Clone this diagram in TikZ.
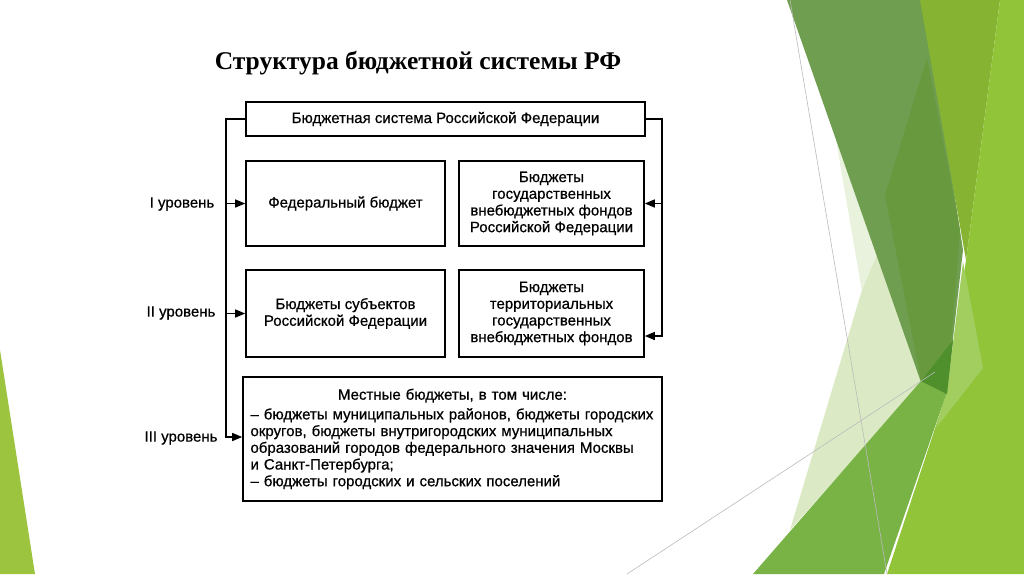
\documentclass[tikz,border=0pt]{standalone}
\usepackage{fontspec}
\setmainfont{Liberation Serif}
\newfontfamily\arial[FakeBold=0.6]{Liberation Sans}
\usetikzlibrary{arrows.meta}
\definecolor{pale}{HTML}{DBEAC4}
\definecolor{palelt}{HTML}{E9F2DC}
\definecolor{darkband}{HTML}{6F9E50}
\definecolor{darker}{HTML}{68993F}
\definecolor{limeM}{HTML}{86B432}
\definecolor{limeL}{HTML}{92C43A}
\definecolor{strip}{HTML}{A2CE60}
\definecolor{midgreen}{HTML}{79B346}
\definecolor{darkest}{HTML}{4F8F2C}
\definecolor{leftstrip}{HTML}{9CC43E}
\definecolor{hairgray}{HTML}{BBBBBB}
\begin{document}
\begin{tikzpicture}[x=1pt,y=-1pt,
  box/.style={draw=black, line width=1.6pt, fill=white, inner sep=0pt,
    font=\arial\fontsize{15}{16.7}\selectfont, align=center},
  conn/.style={line width=1.4pt, -{Triangle[length=10pt,width=8pt]}},
  lvl/.style={font=\arial\fontsize{15}{16}\selectfont, inner sep=0pt}]
\useasboundingbox (0,0) rectangle (1024,574);
\fill[white] (0,0) rectangle (1024,574);
% background facets
\fill[leftstrip] (0,350) -- (35,574) -- (0,574) -- cycle;
\fill[pale] (832,115) -- (922,382) -- (790,530) -- (862,290) -- cycle;
\fill[palelt] (832,115) -- (878,252) -- (862,290) -- cycle;
\fill[darkband] (787,0) -- (925,0) -- (963,250) -- (947,392) -- (922,385) -- cycle;
\fill[darker] (927,58) -- (960,230) -- (947,392) -- (921,381) -- (885,195) -- cycle;
\fill[limeM] (920,0) -- (1000,0) -- (966,260) -- cycle;
\fill[limeL] (1000,0) -- (1024,0) -- (1024,574) -- (887,574) -- (947,392) -- (966,260) -- cycle;
\fill[strip] (963,262) -- (983,368) -- (936,428) -- (947,392) -- cycle;
\fill[midgreen] (753,574) -- (921,381) -- (953,340) -- (947,392) -- (884,574) -- cycle;
\fill[darkest] (921,381) -- (953,340) -- (947,394) -- cycle;
\draw[hairgray, line width=0.6pt] (790,0) -- (887,574);
\draw[hairgray, line width=0.6pt] (627,574) -- (935,372);
% title
\node[font=\bfseries\fontsize{25.5}{28}\selectfont, inner sep=0pt] (title) at (418,63) {Структура бюджетной системы РФ};
% boxes
\node[box, minimum width=399pt, minimum height=34pt] (top) at (445.5,119) {Бюджетная система Российской Федерации};
\node[box, minimum width=199pt, minimum height=85pt] (fed) at (345.5,203.5) {Федеральный бюджет};
\node[box, minimum width=185pt, minimum height=85pt] (fonds) at (551.5,203.5) {Бюджеты\\государственных\\внебюджетных фондов\\Российской Федерации};
\node[box, minimum width=199pt, minimum height=87pt] (sub) at (345.5,313.5) {Бюджеты субъектов\\Российской Федерации};
\node[box, minimum width=185pt, minimum height=87pt] (terr) at (551.5,313.5) {Бюджеты\\территориальных\\государственных\\внебюджетных фондов};
\node[box, minimum width=419pt, minimum height=124pt, text width=404pt, align=left] (loc) at (452.5,439) {{\centering Местные бюджеты, в том числе:\par}\vspace{3pt}%
– бюджеты муниципальных районов, бюджеты городских\\округов, бюджеты внутригородских муниципальных\\образований городов федерального значения Москвы\\и Санкт-Петербурга;\\– бюджеты городских и сельских поселений};
% level labels
\node[lvl] (l1) at (182,204) {I уровень};
\node[lvl] (l2) at (181,313) {II уровень};
\node[lvl] (l3) at (181,438) {III уровень};
% connectors
\coordinate (lb) at (226,437);
\coordinate (rb) at (662,336);
\draw[conn] (top.west) -| (lb) -- (lb -| loc.west);
\draw[conn] (lb |- fed.west) -- (fed.west);
\draw[conn] (lb |- sub.west) -- (sub.west);
\draw[conn] (top.east) -| (rb) -- (rb -| terr.east);
\draw[conn] (rb |- fonds.east) -- (fonds.east);
\end{tikzpicture}
\end{document}
